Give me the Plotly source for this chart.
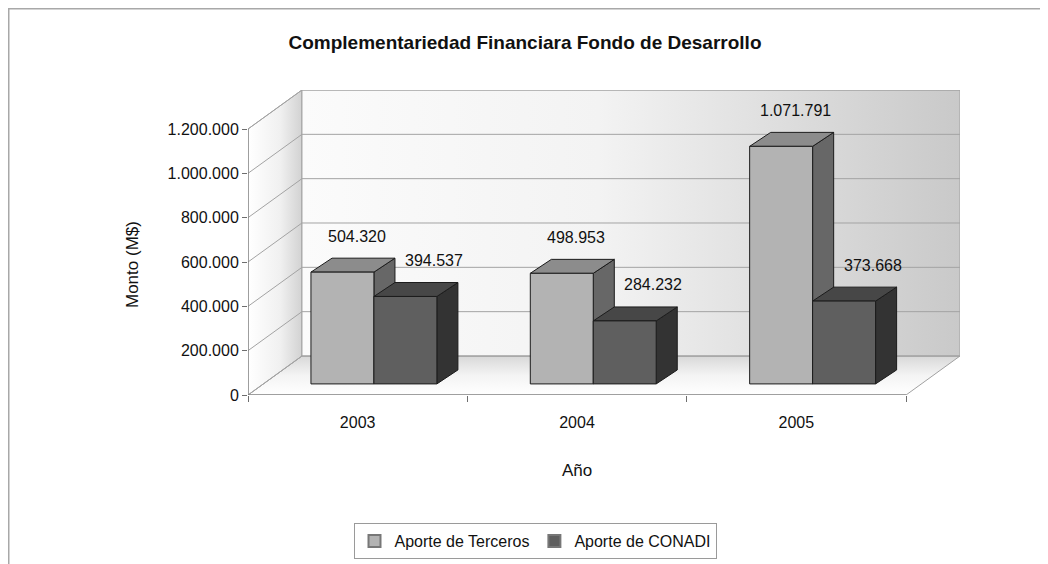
import plotly.graph_objects as go

# ---------------- data ----------------
years = ["2003", "2004", "2005"]
terceros = [504320, 498953, 1071791]
conadi = [394537, 284232, 373668]
series_names = ["Aporte de Terceros", "Aporte de CONADI"]
y_ticks = [0, 200000, 400000, 600000, 800000, 1000000, 1200000]

# ---------------- layout constants ----------------
W, H = 1048, 564
OFF = 8                                # page body margin
# plot area in page pixels
PX0, PX1, PY0, PY1 = 248, 960, 90, 395
ML, MT = PX0 - OFF, PY0 - OFF
MR, MB = W - (PX1 - OFF), H - (PY1 - OFF)
PW, PH = PX1 - PX0, PY1 - PY0
BACK_DX, BACK_DY = 0.246, 176000      # depth of the walls (oblique projection)
BAR_DX, BAR_DY = 0.074, 50000         # offset of bar front faces
DEP_DX, DEP_DY = 0.096, 63000         # depth of a bar
BW = 0.287                            # bar width (category units)
YTOP = y_ticks[-1]
XMIN, XMAX = -0.5, len(years) - 0.5
FONT = "Liberation Sans, Arial, sans-serif"

face_colors = [
    {"front": "#b3b3b3", "top": "#8c8c8c", "side": "#676767"},
    {"front": "#5f5f5f", "top": "#474747", "side": "#333333"},
]
label_xshift = [4, 18]


def fmt(v):
    return f"{v:,}".replace(",", ".")


def poly(xs, ys, fill, line="#1c1c1c", width=1, gradient=None):
    kw = dict(
        x=list(xs) + [xs[0]], y=list(ys) + [ys[0]],
        mode="lines", fill="toself",
        line=dict(color=line, width=width),
        hoverinfo="skip", showlegend=False,
    )
    if gradient is not None:
        kw["fillgradient"] = gradient
    else:
        kw["fillcolor"] = fill
    return go.Scatter(**kw)


fig = go.Figure()

# ---- walls ----
fig.add_trace(poly(
    [XMIN, XMAX, XMAX + BACK_DX, XMIN + BACK_DX], [0, 0, BACK_DY, BACK_DY], None,
    line="#a0a0a0",
    gradient=dict(type="vertical", colorscale=[[0, "#ffffff"], [0.5, "#f4f4f4"], [1, "#d8d8d8"]]),
))
fig.add_trace(poly(
    [XMIN, XMIN + BACK_DX, XMIN + BACK_DX, XMIN], [0, BACK_DY, YTOP + BACK_DY, YTOP], None,
    line="#a0a0a0",
    gradient=dict(type="horizontal", colorscale=[[0, "#ffffff"], [0.6, "#f0f0f0"], [1, "#d2d2d2"]]),
))
fig.add_trace(poly(
    [XMIN + BACK_DX, XMAX + BACK_DX, XMAX + BACK_DX, XMIN + BACK_DX],
    [BACK_DY, BACK_DY, YTOP + BACK_DY, YTOP + BACK_DY], None,
    line="#a0a0a0",
    gradient=dict(type="horizontal", colorscale=[[0, "#fbfbfb"], [0.45, "#f3f3f3"], [1, "#c9c9c9"]]),
))

# ---- gridlines on side and back walls ----
gx, gy = [], []
for v in y_ticks:
    gx += [XMIN, XMIN + BACK_DX, XMAX + BACK_DX, None]
    gy += [v, v + BACK_DY, v + BACK_DY, None]
fig.add_trace(go.Scatter(x=gx, y=gy, mode="lines", line=dict(color="#a3a3a3", width=1),
                         hoverinfo="skip", showlegend=False))

# ---- front axis lines ----
fig.add_trace(go.Scatter(x=[XMIN, XMIN, XMAX], y=[YTOP, 0, 0], mode="lines",
                         line=dict(color="#6e6e6e", width=1), hoverinfo="skip", showlegend=False))

# ---- 3D bars ----
annotations = []
for i, _ in enumerate(years):
    for s, vals in enumerate([terceros, conadi]):
        v = vals[i]
        c = face_colors[s]
        x0 = i - BW + BAR_DX + s * BW
        x1 = x0 + BW
        y0, y1 = BAR_DY, BAR_DY + v
        fig.add_trace(poly([x1, x1 + DEP_DX, x1 + DEP_DX, x1],
                           [y0, y0 + DEP_DY, y1 + DEP_DY, y1], c["side"]))
        fig.add_trace(poly([x0, x1, x1 + DEP_DX, x0 + DEP_DX],
                           [y1, y1, y1 + DEP_DY, y1 + DEP_DY], c["top"]))
        fig.add_trace(poly([x0, x1, x1, x0], [y0, y0, y1, y1], c["front"]))
        annotations.append(dict(
            x=(x0 + x1) / 2 + DEP_DX / 2, y=y1 + DEP_DY, xref="x", yref="y",
            text=fmt(v), showarrow=False, xanchor="center", yanchor="middle",
            xshift=label_xshift[s], yshift=22, font=dict(size=16, color="#111111", family=FONT),
        ))

# ---- legend entries ----
for s, name in enumerate(series_names):
    fig.add_trace(go.Scatter(
        x=[None], y=[None], mode="markers", name=name,
        marker=dict(symbol="square", size=10, color=face_colors[s]["front"],
                    line=dict(color="#777777", width=1)),
    ))


def px_to_paper_x(px):
    return (px - PX0) / PW


def px_to_paper_y(py):
    return (PY1 - py) / PH


annotations += [
    dict(text="Año", x=px_to_paper_x(577), y=px_to_paper_y(470), xref="paper", yref="paper",
         showarrow=False, xanchor="center", yanchor="middle",
         font=dict(size=17, color="#111111", family=FONT)),
    dict(text="Monto (M$)", x=px_to_paper_x(132), y=px_to_paper_y(265), xref="paper", yref="paper",
         showarrow=False, xanchor="center", yanchor="middle", textangle=-90,
         font=dict(size=17, color="#111111", family=FONT)),
]

fig.update_layout(
    width=W, height=H,
    margin=dict(l=ML, r=MR, t=MT, b=MB),
    paper_bgcolor="white", plot_bgcolor="white",
    separators=",.",
    title=dict(text="<b>Complementariedad Financiara Fondo de Desarrollo</b>",
               x=(525 - OFF) / W, xanchor="center", y=1 - (42 - OFF) / H, yanchor="middle",
               font=dict(size=19, color="#111111", family=FONT)),
    font=dict(family=FONT, size=16, color="#111111"),
    xaxis=dict(range=[XMIN, XMAX + BACK_DX], showgrid=False, zeroline=False, showline=False,
               tickmode="array", tickvals=list(range(len(years))), ticktext=years, ticks="",
               ticklabelstandoff=16,
               minor=dict(tickmode="array", tickvals=[k - 0.5 for k in range(len(years) + 1)],
                          ticks="outside", ticklen=6, tickcolor="#6e6e6e", showgrid=False),
               tickfont=dict(size=16, color="#111111", family=FONT), fixedrange=True),
    yaxis=dict(range=[0, YTOP + BACK_DY], showgrid=False, zeroline=False, showline=False,
               tickmode="array", tickvals=y_ticks, ticktext=[fmt(v) for v in y_ticks],
               ticks="outside", ticklen=5, tickcolor="#6e6e6e",
               tickfont=dict(size=16, color="#111111", family=FONT), fixedrange=True),
    legend=dict(orientation="h", x=px_to_paper_x(535), y=px_to_paper_y(541),
                xanchor="center", yanchor="middle", bordercolor="#9a9a9a", borderwidth=1,
                bgcolor="white", font=dict(size=16, color="#111111", family=FONT),
                itemsizing="constant", itemwidth=30),
    annotations=annotations,
    shapes=[dict(type="rect", xref="paper", yref="paper", layer="below",
                 x0=px_to_paper_x(OFF + 0.5), y0=px_to_paper_y(H + 40),
                 x1=px_to_paper_x(W + 40), y1=px_to_paper_y(OFF + 0.5),
                 line=dict(color="#a8a8a8", width=2), fillcolor="rgba(0,0,0,0)")],
)

fig.write_html("out.html")
